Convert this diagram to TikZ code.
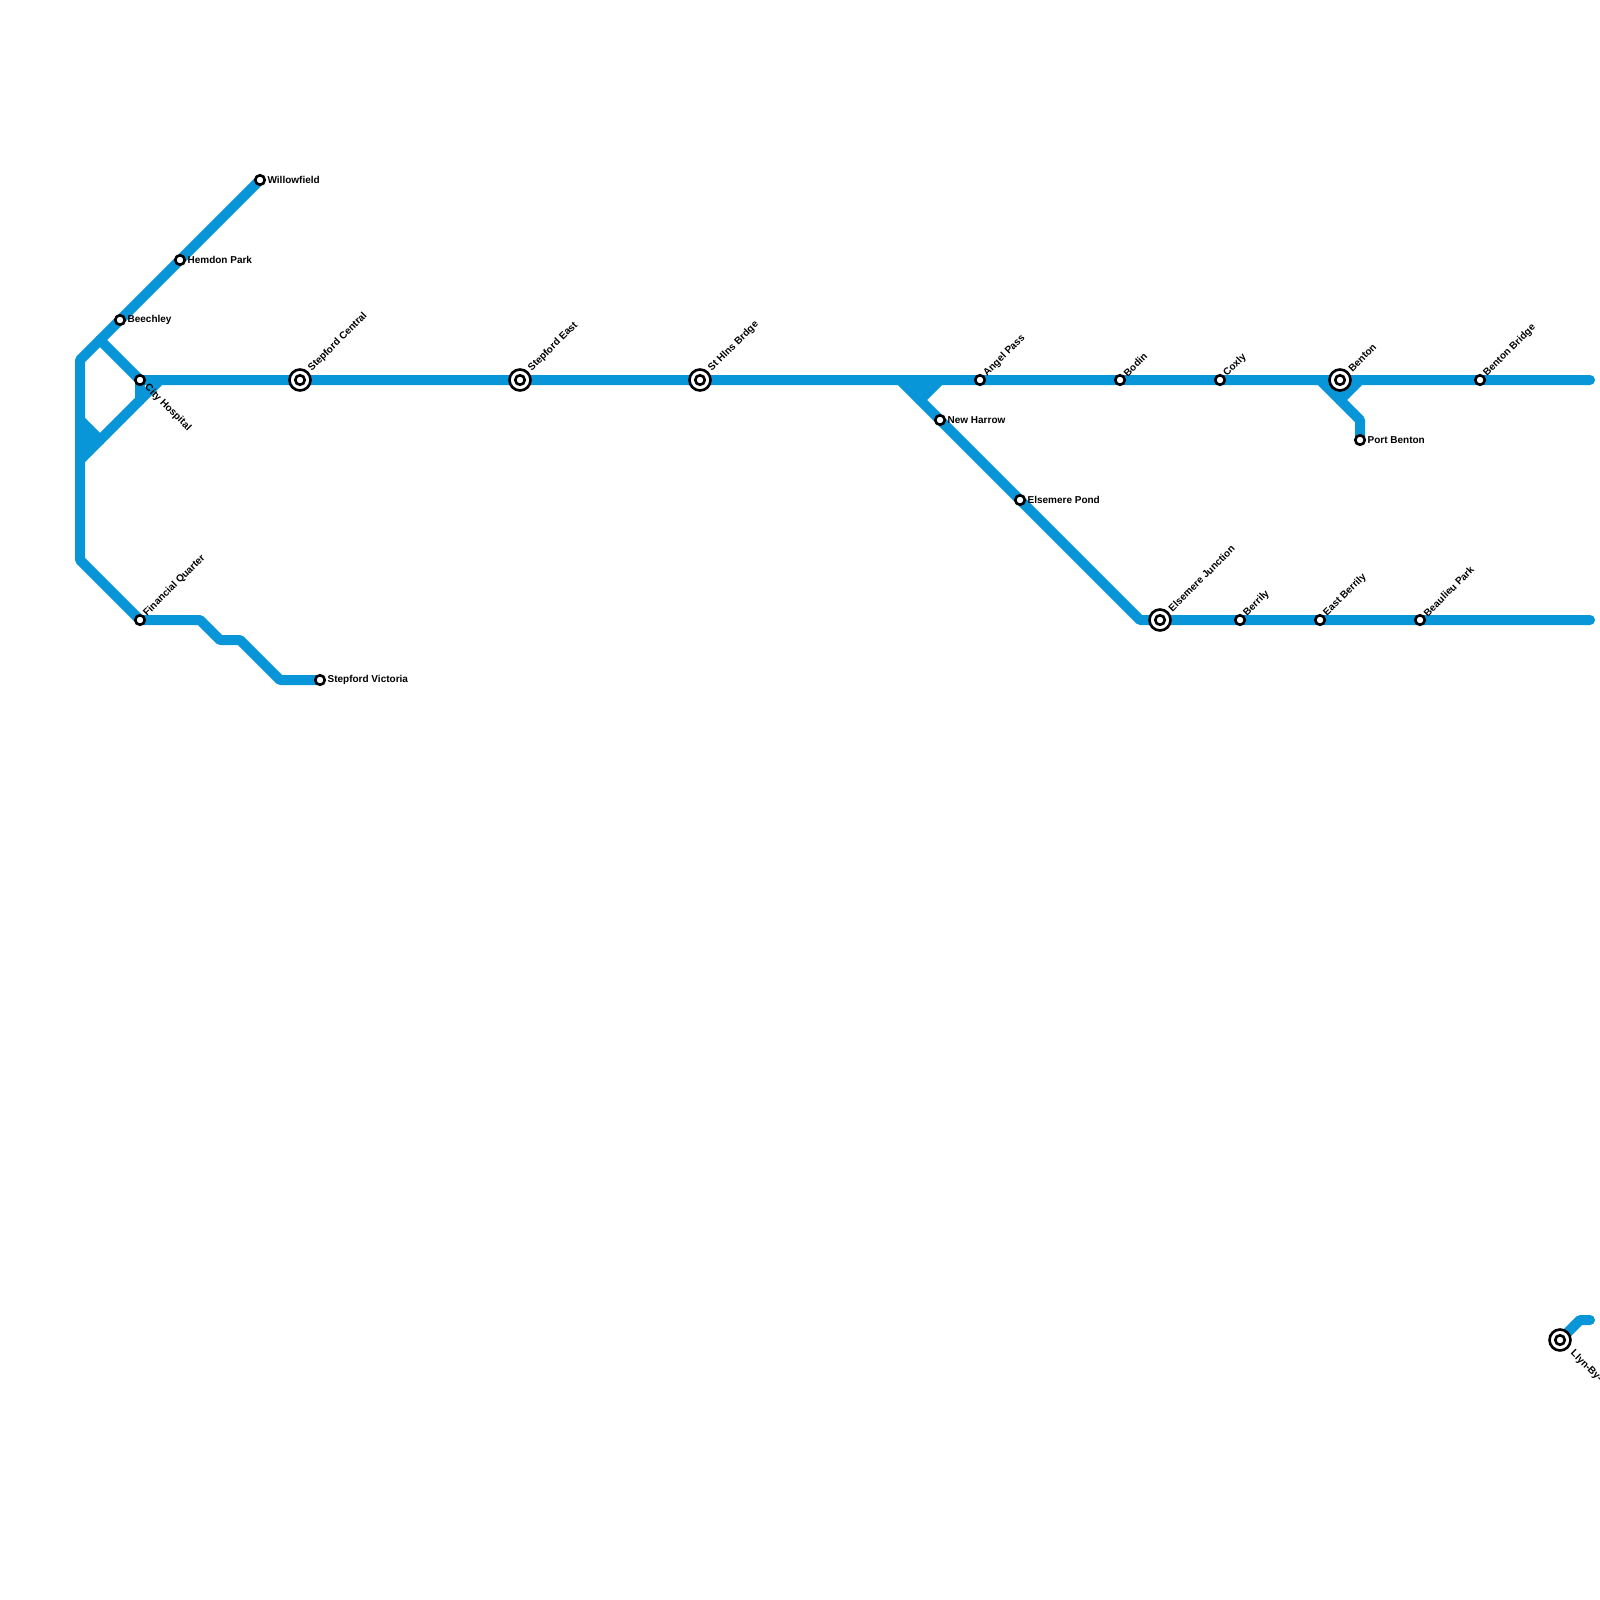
\documentclass[tikz,border=0pt]{standalone}
\usepackage{fontspec}
\setmainfont{Liberation Sans}[BoldFont={Liberation Sans Bold}]
\definecolor{linec}{HTML}{0896D9}
\tikzset{
 metro/.style={draw=linec,line width=10pt,line join=round,line cap=round},
 wedge/.style={fill=linec,draw=linec,line width=1pt},
 stn/.style={circle,draw=black,fill=white,line width=2.6pt,minimum size=9.5pt,inner sep=0pt,outer sep=0pt},
 hub/.style={circle,draw=black,fill=white,line width=2.6pt,minimum size=21pt,inner sep=0pt,outer sep=0pt},
 hubin/.style={circle,draw=black,fill=white,line width=2.6pt,minimum size=9.5pt,inner sep=0pt,outer sep=0pt},
 lbl/.style={font=\fontsize{10}{12}\selectfont\bfseries,text=black,inner sep=0pt,anchor=west},
 up/.style={lbl,rotate=45},
 dn/.style={lbl,rotate=-45}
}
\begin{document}
\begin{tikzpicture}[x=1pt,y=-1pt]
\useasboundingbox (0,0) rectangle (1600,1600);
% vertices
\coordinate (a1) at (80,360); \coordinate (a2) at (80,560);
\coordinate (a3) at (100,340); \coordinate (a4) at (160,380);
\coordinate (a5) at (80,460); \coordinate (a6) at (80,420); \coordinate (a7) at (100,440);
\coordinate (b1) at (200,620); \coordinate (b2) at (220,640); \coordinate (b3) at (240,640); \coordinate (b4) at (280,680);
\coordinate (c0) at (140,400);
\coordinate (e1) at (1590,380); \coordinate (e2) at (1590,620);
\coordinate (d1) at (900,380); \coordinate (d2) at (1140,620); \coordinate (d3) at (940,380); \coordinate (d4) at (920,400);
\coordinate (f1) at (1320,380); \coordinate (f2) at (1360,420); \coordinate (f3) at (1360,380); \coordinate (f4) at (1340,400);
\coordinate (g1) at (1580,1320); \coordinate (g2) at (1590,1320);
% stations
\path
 (260,180) coordinate (willow) (180,260) coordinate (hemdon) (120,320) coordinate (beech)
 (140,380) coordinate (city) (300,380) coordinate (central) (520,380) coordinate (east)
 (700,380) coordinate (hlns) (980,380) coordinate (angel) (940,420) coordinate (harrow)
 (1020,500) coordinate (pond) (1120,380) coordinate (bodin) (1220,380) coordinate (coxly)
 (1340,380) coordinate (benton) (1480,380) coordinate (bbridge) (1360,440) coordinate (port)
 (1160,620) coordinate (junction) (1240,620) coordinate (berrily) (1320,620) coordinate (eberrily)
 (1420,620) coordinate (beaulieu) (140,620) coordinate (fin) (320,680) coordinate (vic)
 (1560,1340) coordinate (llyn);
% lines
\fill[wedge] (a6) -- (a7) -- (a5) -- cycle;
\fill[wedge] (d1) -- (d3) -- (d4) -- cycle;
\fill[wedge] (f1) -- (f3) -- (f4) -- cycle;
\draw[metro] (willow) -- (a1) -- (a2) -- (fin) -- (b1) -- (b2) -- (b3) -- (b4) -- (vic);
\draw[metro] (a3) -- (city) -- (e1);
\draw[metro] (city) -- (c0);
\draw[metro] (a4) -- (a5);
\draw[metro] (a6) -- (a7);
\draw[metro] (d1) -- (d2) -- (e2);
\draw[metro] (d3) -- (d4);
\draw[metro] (f1) -- (f2) -- (port);
\draw[metro] (f3) -- (f4);
\draw[metro] (llyn) -- (g1) -- (g2);
% station marks
\foreach \n in {willow,hemdon,beech,city,angel,harrow,pond,bodin,coxly,bbridge,port,berrily,eberrily,beaulieu,fin,vic}
  \node[stn] at (\n) {};
\foreach \n in {central,east,hlns,benton,junction,llyn}{
  \node[hub] at (\n) {};
  \node[hubin] at (\n) {};
}
% labels
\node[lbl] at ([xshift=7.4pt,yshift=0.3pt]willow) {Willowfield};
\node[lbl] at ([xshift=7.4pt,yshift=0.3pt]hemdon) {Hemdon Park};
\node[lbl] at ([xshift=7.4pt,yshift=0.3pt]beech) {Beechley};
\node[lbl] at ([xshift=7.4pt,yshift=0.3pt]harrow) {New Harrow};
\node[lbl] at ([xshift=7.4pt,yshift=0.3pt]pond) {Elsemere Pond};
\node[lbl] at ([xshift=7.4pt,yshift=0.3pt]port) {Port Benton};
\node[lbl] at ([xshift=7.4pt,yshift=0.3pt]vic) {Stepford Victoria};
\node[dn] at ([xshift=6pt,yshift=-6pt]city) {City Hospital};
\node[dn] at ([xshift=12pt,yshift=-12pt]llyn) {Llyn-By-};
\node[up] at ([xshift=10pt,yshift=10pt]central) {Stepford Central};
\node[up] at ([xshift=10pt,yshift=10pt]east) {Stepford East};
\node[up] at ([xshift=10pt,yshift=10pt]hlns) {St Hlns Brdge};
\node[up] at ([xshift=10pt,yshift=10pt]benton) {Benton};
\node[up] at ([xshift=10pt,yshift=10pt]junction) {Elsemere Junction};
\node[up] at ([xshift=5.2pt,yshift=5.2pt]angel) {Angel Pass};
\node[up] at ([xshift=5.2pt,yshift=5.2pt]bodin) {Bodin};
\node[up] at ([xshift=5.2pt,yshift=5.2pt]coxly) {Coxly};
\node[up] at ([xshift=5.2pt,yshift=5.2pt]bbridge) {Benton Bridge};
\node[up] at ([xshift=5.2pt,yshift=5.2pt]berrily) {Berrily};
\node[up] at ([xshift=5.2pt,yshift=5.2pt]eberrily) {East Berrily};
\node[up] at ([xshift=5.2pt,yshift=5.2pt]beaulieu) {Beaulieu Park};
\node[up] at ([xshift=5.2pt,yshift=5.2pt]fin) {Financial Quarter};
\end{tikzpicture}
\end{document}
